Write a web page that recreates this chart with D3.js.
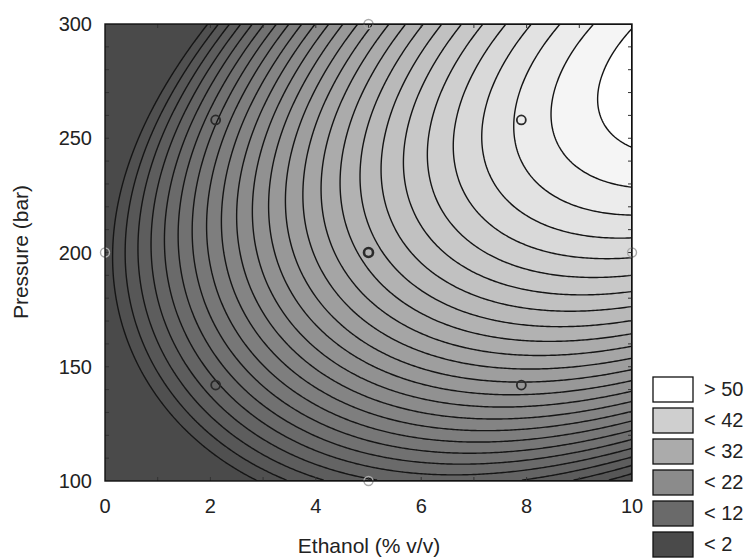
<!DOCTYPE html>
<html>
<head>
<meta charset="utf-8">
<script src="https://cdn.jsdelivr.net/npm/d3@7"></script>
<style>
  body { margin: 0; background: #fff; }
  svg { display: block; font-family: "Liberation Sans", Arial, sans-serif; }
</style>
</head>
<body>
<svg id="chart" width="750" height="559"></svg>
<script>
// axis ranges and labels
const ethanolRange = [0, 10];
const pressureRange = [100, 300];
const xTicks = [0, 2, 4, 6, 8, 10];
const yTicks = [100, 150, 200, 250, 300];
const xMinorTicks = [1, 2, 3, 4, 5, 6, 7, 8, 9];
const yMinorTicks = [110, 120, 130, 140, 150, 160, 170, 180, 190, 200, 210, 220, 230, 240, 250, 260, 270, 280, 290];

// contour levels of the response
const contourLevels = [2, 4, 6, 8, 10, 12, 14, 16, 18, 20, 22, 24, 26, 28, 30, 32, 34, 36, 38, 40, 42, 44, 46, 48, 50];

// legend
const legendLabels = ["> 50", "< 42", "< 32", "< 22", "< 12", "< 2"];
const legendValues = [52, 42, 32, 22, 12, 2];
const legendGrays = ["#ffffff", "#cfcfcf", "#ababab", "#8b8b8b", "#6a6a6a", "#4a4a4a"];

// experimental design points
const designEthanol = [2.1, 7.9, 2.1, 7.9, 5, 5, 5, 0, 10];
const designPressure = [142, 142, 258, 258, 200, 300, 100, 200, 200];
const designOnEdge = [false, false, false, false, false, true, true, true, true];

// fitted response surface
// response along the ridge: a + b*E + c*E^2
const ridgeResponse = [0.770, 8.585, -0.355];
// pressure of the ridge: p0 + s*E
const ridgePressure = [197, 7.5];
// fall-off away from the ridge: k2*d^2 + (k3 + k3e*E)*d^3
const falloff = [0.001654, 0.000002221, -0.0000002221];

function response(e, p) {
  const d = p - (ridgePressure[0] + ridgePressure[1] * e);
  const yr = ridgeResponse[0] + ridgeResponse[1] * e + ridgeResponse[2] * e * e;
  const k3 = falloff[1] + falloff[2] * e;
  return yr - falloff[0] * d * d - k3 * d * d * d;
}

const svg = d3.select("#chart");
const plotLeft = 105, plotRight = 632, plotTop = 24, plotBottom = 481;

const x = d3.scaleLinear().domain(ethanolRange).range([plotLeft, plotRight]);
const y = d3.scaleLinear().domain(pressureRange).range([plotBottom, plotTop]);

const fill = d3.scaleLinear()
  .domain(legendValues.slice().reverse())
  .range(legendGrays.slice().reverse())
  .clamp(true);

svg.append("defs").append("clipPath").attr("id", "plotClip")
  .append("rect")
  .attr("x", plotLeft).attr("y", plotTop)
  .attr("width", plotRight - plotLeft).attr("height", plotBottom - plotTop);

// grid of the surface
const nx = 264, ny = 229;
const values = new Array(nx * ny);
for (let j = 0; j < ny; j++) {
  const p = pressureRange[1] - (j + 0.5) * (pressureRange[1] - pressureRange[0]) / ny;
  for (let i = 0; i < nx; i++) {
    const e = ethanolRange[0] + (i + 0.5) * (ethanolRange[1] - ethanolRange[0]) / nx;
    values[j * nx + i] = response(e, p);
  }
}

const contours = d3.contours().size([nx, ny]).thresholds(contourLevels)(values);

const toPlot = d3.geoTransform({
  point: function (gx, gy) {
    const e = ethanolRange[0] + gx * (ethanolRange[1] - ethanolRange[0]) / nx;
    const p = pressureRange[1] - gy * (pressureRange[1] - pressureRange[0]) / ny;
    this.stream.point(x(e), y(p));
  }
});
const path = d3.geoPath(toPlot);

const plot = svg.append("g").attr("clip-path", "url(#plotClip)");

plot.append("rect")
  .attr("x", plotLeft).attr("y", plotTop)
  .attr("width", plotRight - plotLeft).attr("height", plotBottom - plotTop)
  .attr("fill", fill(contourLevels[0]));

plot.selectAll("path.band")
  .data(contours)
  .join("path")
  .attr("class", "band")
  .attr("d", path)
  .attr("fill", (d) => fill(d.value + 2))
  .attr("stroke", "none");

plot.selectAll("path.line")
  .data(contours)
  .join("path")
  .attr("class", "line")
  .attr("d", path)
  .attr("fill", "none")
  .attr("stroke", "#151515")
  .attr("stroke-width", 1.4);

// ticks inside the frame
const tickLen = 4;
const ticks = svg.append("g").attr("stroke", "#333").attr("stroke-width", 1);
for (const t of xMinorTicks) {
  ticks.append("line").attr("x1", x(t)).attr("x2", x(t)).attr("y1", plotBottom).attr("y2", plotBottom - tickLen);
  ticks.append("line").attr("x1", x(t)).attr("x2", x(t)).attr("y1", plotTop).attr("y2", plotTop + tickLen);
}
for (const t of yMinorTicks) {
  ticks.append("line").attr("x1", plotLeft).attr("x2", plotLeft + tickLen).attr("y1", y(t)).attr("y2", y(t));
  ticks.append("line").attr("x1", plotRight).attr("x2", plotRight - tickLen).attr("y1", y(t)).attr("y2", y(t));
}

// design points
designEthanol.forEach((e, i) => {
  const isCenter = e === 5 && designPressure[i] === 200;
  svg.append("circle")
    .attr("cx", x(e))
    .attr("cy", y(designPressure[i]))
    .attr("r", 4.5)
    .attr("fill", "none")
    .attr("stroke", designOnEdge[i] ? "#aaa" : "#2a2a2a")
    .attr("stroke-width", isCenter ? 2.6 : designOnEdge[i] ? 1.4 : 1.8);
});

// frame
svg.append("rect")
  .attr("x", plotLeft).attr("y", plotTop)
  .attr("width", plotRight - plotLeft).attr("height", plotBottom - plotTop)
  .attr("fill", "none").attr("stroke", "#111").attr("stroke-width", 1.4);

// tick labels
svg.append("g").selectAll("text")
  .data(xTicks)
  .join("text")
  .attr("x", (d) => x(d))
  .attr("y", 513)
  .attr("text-anchor", "middle")
  .attr("font-size", 20)
  .attr("fill", "#222")
  .text((d) => d);

svg.append("g").selectAll("text")
  .data(yTicks)
  .join("text")
  .attr("x", 92)
  .attr("y", (d) => y(d) + 7)
  .attr("text-anchor", "end")
  .attr("font-size", 20)
  .attr("fill", "#222")
  .text((d) => d);

// axis titles
svg.append("text")
  .attr("x", 369).attr("y", 553)
  .attr("text-anchor", "middle")
  .attr("font-size", 21)
  .attr("fill", "#222")
  .text("Ethanol (% v/v)");

svg.append("text")
  .attr("transform", "translate(28,252) rotate(-90)")
  .attr("text-anchor", "middle")
  .attr("font-size", 21)
  .attr("fill", "#222")
  .text("Pressure (bar)");

// legend
const legend = svg.append("g");
legendLabels.forEach((label, i) => {
  const ly = 377 + i * 31;
  legend.append("rect")
    .attr("x", 653).attr("y", ly)
    .attr("width", 40).attr("height", 25)
    .attr("fill", legendGrays[i])
    .attr("stroke", "#111").attr("stroke-width", 1.3);
  legend.append("text")
    .attr("x", 704).attr("y", ly + 19)
    .attr("font-size", 20)
    .attr("fill", "#222")
    .text(label);
});
</script>
</body>
</html>
